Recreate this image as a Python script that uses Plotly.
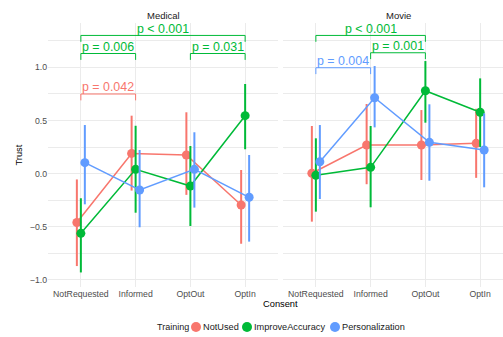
import plotly.graph_objects as go

# ---- data ---------------------------------------------------------------
consent = ["NotRequested", "Informed", "OptOut", "OptIn"]
training = ["NotUsed", "ImproveAccuracy", "Personalization"]
domains = ["Medical", "Movie"]

# Medical: mean trust with 95% CI
med_notused_mean = [-0.46, 0.19, 0.175, -0.295]
med_notused_lo = [-0.87, -0.16, -0.20, -0.66]
med_notused_hi = [-0.055, 0.545, 0.577, 0.034]
med_improve_mean = [-0.562, 0.04, -0.117, 0.545]
med_improve_lo = [-0.93, -0.368, -0.493, 0.229]
med_improve_hi = [-0.232, 0.45, 0.26, 0.843]
med_person_mean = [0.103, -0.154, 0.04, -0.223]
med_person_lo = [-0.289, -0.505, -0.32, -0.64]
med_person_hi = [0.457, 0.222, 0.389, 0.175]

# Movie: mean trust with 95% CI
mov_notused_mean = [0.003, 0.269, 0.269, 0.285]
mov_notused_lo = [-0.452, -0.10, -0.06, -0.04]
mov_notused_hi = [0.448, 0.655, 0.598, 0.61]
mov_improve_mean = [-0.016, 0.059, 0.78, 0.577]
mov_improve_lo = [-0.358, -0.317, 0.479, 0.25]
mov_improve_hi = [0.332, 0.448, 1.059, 0.896]
mov_person_mean = [0.112, 0.714, 0.294, 0.222]
mov_person_lo = [-0.239, 0.435, -0.067, -0.129]
mov_person_hi = [0.457, 1.012, 0.652, 0.567]

# significance brackets: (domain, training, from, to, height, label)
brackets = [
    ("Medical", "ImproveAccuracy", "NotRequested", "OptIn", 1.30, "p < 0.001"),
    ("Medical", "ImproveAccuracy", "NotRequested", "Informed", 1.13, "p = 0.006"),
    ("Medical", "ImproveAccuracy", "OptOut", "OptIn", 1.13, "p = 0.031"),
    ("Medical", "NotUsed", "NotRequested", "Informed", 0.749, "p = 0.042"),
    ("Movie", "ImproveAccuracy", "NotRequested", "OptOut", 1.30, "p < 0.001"),
    ("Movie", "ImproveAccuracy", "Informed", "OptOut", 1.137, "p = 0.001"),
    ("Movie", "Personalization", "NotRequested", "Informed", 0.996, "p = 0.004"),
]

y_ticks = [-1.0, -0.5, 0.0, 0.5, 1.0]
y_minor = [-0.75, -0.25, 0.25, 0.75, 1.25]

# ---- style ------------------------------------------------------------
colors = {"NotUsed": "#F8766D", "ImproveAccuracy": "#00BA38",
          "Personalization": "#619CFF"}
dodge = {"NotUsed": -0.073, "ImproveAccuracy": 0.0, "Personalization": 0.073}
FONT = "Liberation Sans, Arial, sans-serif"
W, H = 503, 337
MT, MB = 23, 50

series = {
    ("Medical", "NotUsed"): (med_notused_mean, med_notused_lo, med_notused_hi),
    ("Medical", "ImproveAccuracy"): (med_improve_mean, med_improve_lo, med_improve_hi),
    ("Medical", "Personalization"): (med_person_mean, med_person_lo, med_person_hi),
    ("Movie", "NotUsed"): (mov_notused_mean, mov_notused_lo, mov_notused_hi),
    ("Movie", "ImproveAccuracy"): (mov_improve_mean, mov_improve_lo, mov_improve_hi),
    ("Movie", "Personalization"): (mov_person_mean, mov_person_lo, mov_person_hi),
}
axes = {"Medical": ("x", "y"), "Movie": ("x2", "y2")}

fig = go.Figure()

for dom in domains:
    xa, ya = axes[dom]
    for tr in training:
        mean, lo, hi = series[(dom, tr)]
        xs = [i + dodge[tr] for i in range(len(consent))]
        fig.add_trace(go.Scatter(
            x=xs, y=mean, xaxis=xa, yaxis=ya, mode="lines+markers",
            line=dict(color=colors[tr], width=1.5),
            marker=dict(color=colors[tr], size=9),
            error_y=dict(type="data", symmetric=False,
                         array=[h - m for h, m in zip(hi, mean)],
                         arrayminus=[m - l for m, l in zip(mean, lo)],
                         color=colors[tr], thickness=2, width=0),
            showlegend=False, hoverinfo="skip"))

annotations = []
tip = 0.06
for dom, tr, a, b, yb, label in brackets:
    xa, ya = axes[dom]
    x0, x1 = consent.index(a), consent.index(b)
    fig.add_trace(go.Scatter(
        x=[x0, x0, x1, x1], y=[yb - tip, yb, yb, yb - tip],
        xaxis=xa, yaxis=ya, mode="lines",
        line=dict(color=colors[tr], width=1),
        showlegend=False, hoverinfo="skip"))
    annotations.append(dict(
        x=(x0 + x1) / 2, y=yb + 0.062, xref=xa, yref=ya, text=label,
        showarrow=False, xanchor="center", yanchor="middle",
        font=dict(family=FONT, size=12.4, color=colors[tr])))

# facet titles
for dom in domains:
    xa, ya = axes[dom]
    annotations.append(dict(
        x=1.5, y=(MT - 15.5) / (H - MT - MB) + 1, xref=xa, yref="paper",
        text=dom, showarrow=False, xanchor="center", yanchor="middle",
        font=dict(family=FONT, size=9.5, color="#1A1A1A")))

def py(px):
    return (H - MB - px) / (H - MT - MB)

# axis titles
annotations.append(dict(x=280 / W, y=py(304), xref="paper", yref="paper",
                        text="Consent", showarrow=False, xanchor="center",
                        yanchor="middle",
                        font=dict(family=FONT, size=9.3, color="#000000")))
annotations.append(dict(x=18.5 / W, y=py(155), xref="paper", yref="paper",
                        text="Trust", showarrow=False, textangle=-90,
                        xanchor="center", yanchor="middle",
                        font=dict(family=FONT, size=9.3, color="#000000")))

# legend
leg_y = py(327)
annotations.append(dict(x=155 / W, y=leg_y, xref="paper", yref="paper",
                        text="Training", showarrow=False, xanchor="left",
                        yanchor="middle",
                        font=dict(family=FONT, size=9, color="#1A1A1A")))
shapes = []
leg_key_x = [196, 247, 335]
for tr, kx in zip(training, leg_key_x):
    shapes.append(dict(type="circle", xref="paper", yref="paper",
                       xsizemode="pixel", ysizemode="pixel",
                       xanchor=kx / W, yanchor=leg_y,
                       x0=-5, x1=5, y0=-5, y1=5,
                       fillcolor=colors[tr], line=dict(width=0)))
    annotations.append(dict(x=(kx + 5) / W, y=leg_y, xref="paper",
                            yref="paper", text=tr, showarrow=False,
                            xanchor="left", yanchor="middle",
                            font=dict(family=FONT, size=9.2, color="#1A1A1A")))

grid = "#EBEBEB"
xcommon = dict(tickmode="array", tickvals=list(range(len(consent))),
               ticktext=consent, showgrid=True, gridcolor=grid, gridwidth=1,
               zeroline=False, showline=False, ticks="",
               tickfont=dict(family=FONT, size=8.7, color="#4D4D4D"))
ycommon = dict(range=[-1.067, 1.417], tickmode="array", tickvals=y_ticks,
               ticktext=["\u22121.0", "\u22120.5", "0.0", "0.5", "1.0"],
               showgrid=True, gridcolor=grid, gridwidth=1, zeroline=False,
               showline=False, ticks="",
               minor=dict(tickvals=y_minor, showgrid=True, gridcolor=grid,
                          gridwidth=0.8, ticks=""),
               tickfont=dict(family=FONT, size=8.7, color="#4D4D4D"))

fig.update_layout(
    width=W, height=H,
    margin=dict(l=0, r=0, t=MT, b=MB),
    paper_bgcolor="white", plot_bgcolor="white",
    xaxis=dict(domain=[48 / W, 278 / W], range=[-0.6, 3.6], anchor="y",
               **xcommon),
    xaxis2=dict(domain=[283 / W, 1.0], range=[-0.6, 3.417], anchor="y2",
                **xcommon),
    yaxis=dict(domain=[0, 1], anchor="x", **ycommon),
    yaxis2=dict(domain=[0, 1], anchor="x2", matches="y",
                showticklabels=False,
                **{k: v for k, v in ycommon.items() if k != "range"}),
    annotations=annotations,
    shapes=shapes,
    showlegend=False,
)

fig.write_html("out.html")
